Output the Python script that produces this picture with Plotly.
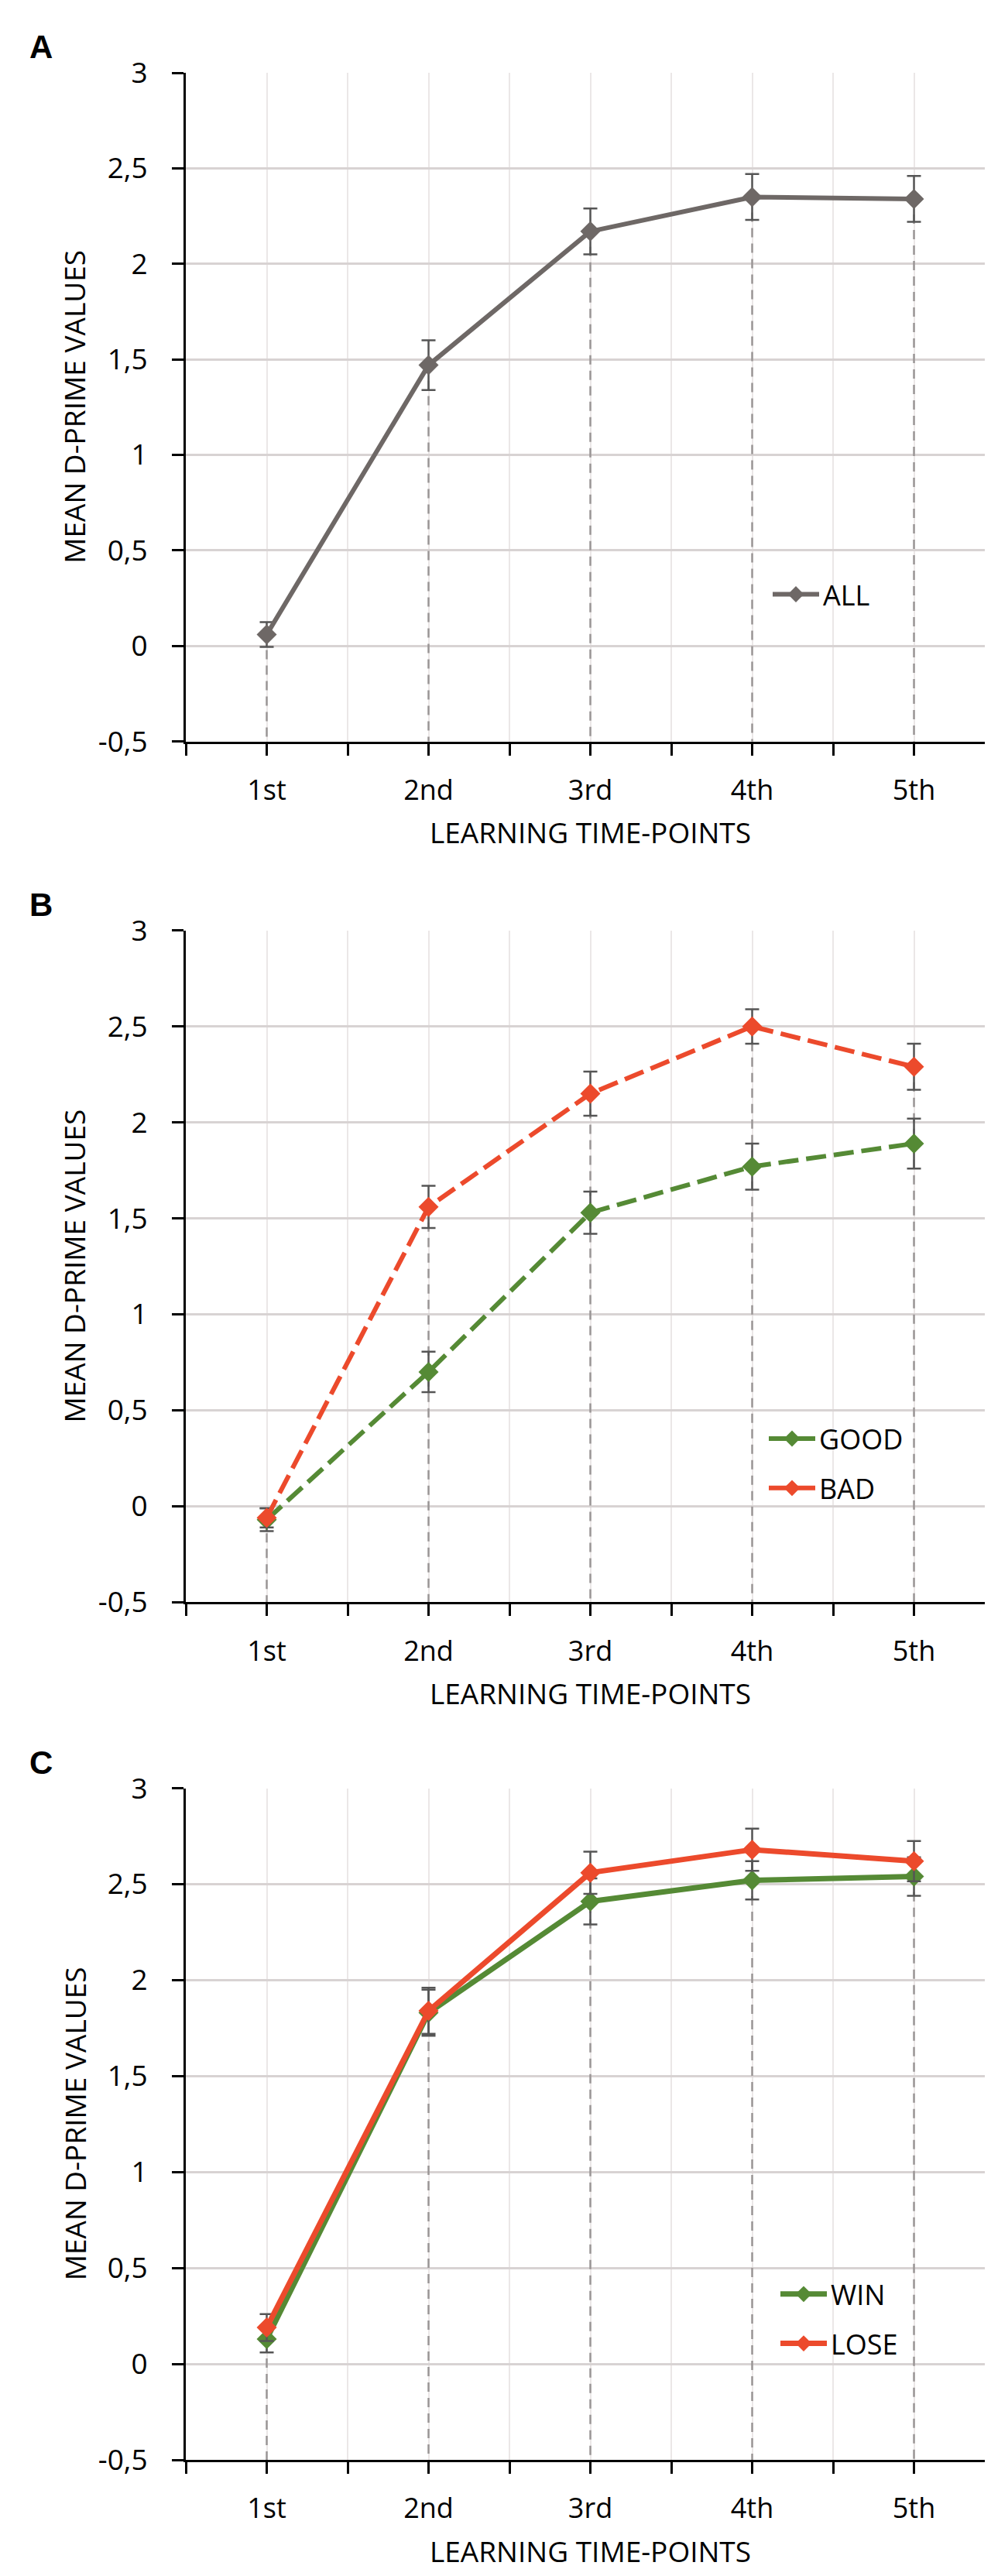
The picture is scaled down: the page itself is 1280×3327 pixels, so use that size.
import plotly.graph_objs as go

# data
cats = ["1st", "2nd", "3rd", "4th", "5th"]
y_ticks = [-0.5, 0, 0.5, 1, 1.5, 2, 2.5, 3]

all_mean = [0.06, 1.47, 2.17, 2.35, 2.34]
all_err = [0.065, 0.13, 0.12, 0.12, 0.12]

good_mean = [-0.07, 0.70, 1.53, 1.77, 1.89]
good_err = [0.06, 0.105, 0.11, 0.12, 0.13]
bad_mean = [-0.06, 1.56, 2.15, 2.50, 2.29]
bad_err = [0.05, 0.11, 0.115, 0.09, 0.12]

win_mean = [0.13, 1.83, 2.41, 2.52, 2.54]
win_err = [0.07, 0.12, 0.12, 0.10, 0.10]
lose_mean = [0.19, 1.84, 2.56, 2.68, 2.62]
lose_err = [0.07, 0.12, 0.11, 0.11, 0.105]

GRAY = "#6e6866"
GREEN = "#558a35"
RED = "#ec4a2c"
ERR = "#555555"
FONT = "Open Sans"

xpos = list(range(1, len(cats) + 1))
ymin = y_ticks[0]


def droplines(series, xa, ya):
    # dashed drop lines from the highest point of each category to the x axis
    xs, ys = [], []
    for i, x in enumerate(xpos):
        top = max(s[i] for s in series)
        xs += [x, x, None]
        ys += [top, ymin, None]
    return go.Scatter(x=xs, y=ys, mode="lines", xaxis=xa, yaxis=ya, showlegend=False,
                      hoverinfo="skip",
                      line=dict(color="#9a9696", width=2.5, dash="12px,8px"))


def series(name, mean, err, color, dash, xa, ya, leg, width=6):
    return go.Scatter(x=xpos, y=mean, name=name, mode="lines+markers", xaxis=xa, yaxis=ya,
                      legend=leg, legendgroup=name,
                      line=dict(color=color, width=width, dash=dash),
                      marker=dict(symbol="diamond", size=20, color=color),
                      error_y=dict(type="data", array=err, visible=True, color=ERR,
                                   thickness=2.5, width=9))


data = [
    droplines([all_mean], "x", "y"),
    series("ALL", all_mean, all_err, GRAY, "solid", "x", "y", "legend"),
    droplines([good_mean, bad_mean], "x2", "y2"),
    series("GOOD", good_mean, good_err, GREEN, "26px,10px", "x2", "y2", "legend2"),
    series("BAD", bad_mean, bad_err, RED, "26px,10px", "x2", "y2", "legend2"),
    droplines([win_mean, lose_mean], "x3", "y3"),
    series("WIN", win_mean, win_err, GREEN, "solid", "x3", "y3", "legend3", width=7),
    series("LOSE", lose_mean, lose_err, RED, "solid", "x3", "y3", "legend3", width=7),
]

H = 3327.0
W = 1280.0
panels = [(60, 937), (1185, 2066), (2310, 3191)]
xdom = [232 / W, 1277 / W]

xtickvals = [0.5 + 0.5 * k for k in range(2 * len(cats) + 1)]
xticktext = [cats[k // 2] if k % 2 == 1 else "" for k in range(2 * len(cats) + 1)]
yticktext = [f"{v:g}".replace(".", ",") for v in y_ticks]

layout = dict(width=1280, height=3327, margin=dict(l=0, r=0, t=0, b=0),
              paper_bgcolor="white", plot_bgcolor="white",
              font=dict(family=FONT, size=37, color="black"),
              annotations=[], showlegend=True)

for n, (top, bot) in enumerate(panels):
    sfx = "" if n == 0 else str(n + 1)
    layout["xaxis" + sfx] = dict(
        domain=xdom, anchor="y" + sfx, range=[0.5, len(cats) + 0.5],
        tickmode="array", tickvals=xtickvals, ticktext=xticktext,
        tickfont=dict(size=36),
        showgrid=True, gridcolor="#ebe7e7", gridwidth=2,
        showline=True, linecolor="black", linewidth=3,
        ticks="outside", ticklen=15, tickwidth=2.5, tickcolor="black",
        ticklabelstandoff=14, zeroline=False, fixedrange=True)
    layout["yaxis" + sfx] = dict(
        domain=[1 - bot / H, 1 - top / H], anchor="x" + sfx, range=[ymin, y_ticks[-1]],
        tickmode="array", tickvals=y_ticks, ticktext=yticktext,
        tickfont=dict(size=37),
        showgrid=True, gridcolor="#d8d3d3", gridwidth=2.5,
        showline=True, linecolor="black", linewidth=3,
        ticks="outside", ticklen=15, tickwidth=2.5, tickcolor="black",
        ticklabelstandoff=24, zeroline=False, fixedrange=True)
    # panel letter
    layout["annotations"].append(dict(
        text="<b>" + "ABC"[n] + "</b>", x=45 / W, y=1 - (top - 34) / H,
        xref="paper", yref="paper", xanchor="center", yanchor="middle", showarrow=False,
        font=dict(family="Liberation Sans", size=42, color="black")))
    # axis titles
    layout["annotations"].append(dict(
        text="MEAN D-PRIME VALUES", x=88 / W, y=1 - (top + bot) / 2 / H,
        xref="paper", yref="paper", xanchor="center", yanchor="middle",
        showarrow=False, textangle=-90, font=dict(size=37)))
    layout["annotations"].append(dict(
        text="LEARNING TIME-POINTS", x=(xdom[0] + xdom[1]) / 2, y=1 - (bot + 119) / H,
        xref="paper", yref="paper", xanchor="center", yanchor="middle",
        showarrow=False, font=dict(size=37)))

legend_y = [744, 1884, 3006]
legend_x = [985, 980, 995]
for n, yc in enumerate(legend_y):
    key = "legend" if n == 0 else "legend" + str(n + 1)
    layout[key] = dict(x=legend_x[n] / W, y=1 - yc / H, xanchor="left", yanchor="middle",
                       bgcolor="rgba(0,0,0,0)", font=dict(size=36, color="black"),
                       tracegroupgap=14, itemwidth=60)

fig = go.Figure(data=data, layout=go.Layout(**layout))
fig.write_html("out.html")
